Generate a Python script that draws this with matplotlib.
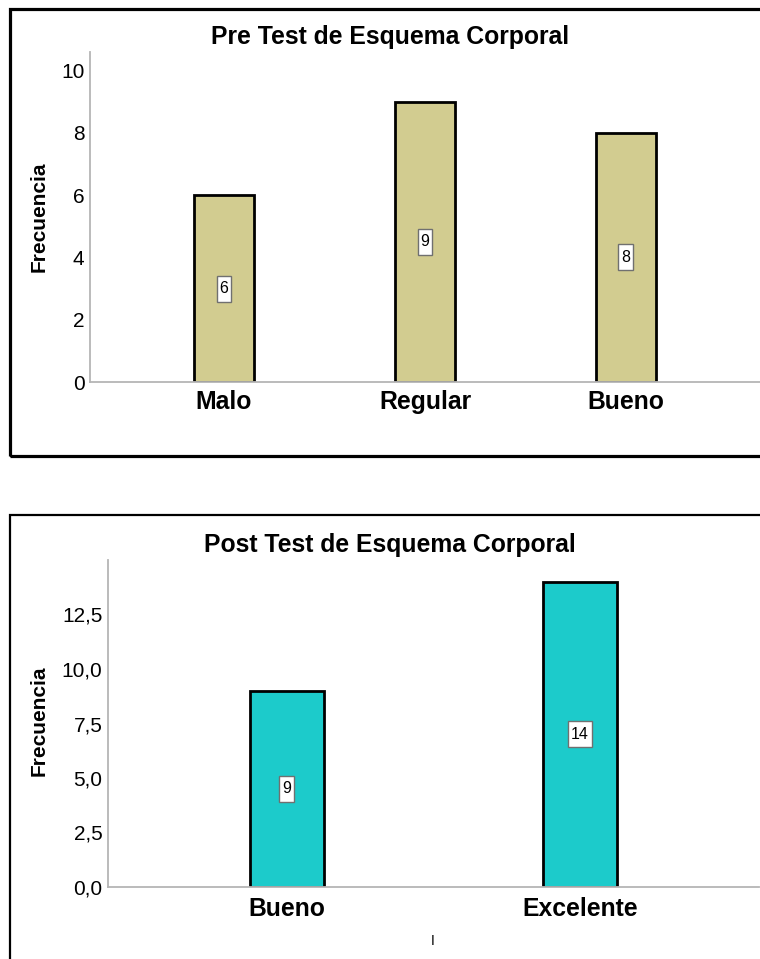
import matplotlib
matplotlib.use("Agg")
import matplotlib.pyplot as plt
from matplotlib.patches import Rectangle
from matplotlib.path import Path

plt.rcParams['font.family'] = ['Liberation Sans', 'DejaVu Sans']

# Data
pre_categories = ["Malo", "Regular", "Bueno"]
pre_values = [6, 9, 8]
post_categories = ["Bueno", "Excelente"]
post_values = [9, 14]
pre_title = "Pre Test de Esquema Corporal"
post_title = "Post Test de Esquema Corporal"
y_label = "Frecuencia"
pre_yticks = [0, 2, 4, 6, 8, 10]
post_yticks = [0, 2.5, 5.0, 7.5, 10.0, 12.5]

W, H = 760, 959
fig = plt.figure(figsize=(W / 100, H / 100), dpi=100)

def fx(px):
    return px / W

def fy(py):
    return 1 - py / H

def tall_box(x0, y0, width, height, mutation_scale=1.0):
    px_, py_ = 3.0, 5.5
    x0 -= px_
    x1 = x0 + width + 2 * px_
    y0 -= py_
    y1 = y0 + height + 2 * py_
    return Path([(x0, y0), (x1, y0), (x1, y1), (x0, y1), (x0, y0)],
                [Path.MOVETO, Path.LINETO, Path.LINETO, Path.LINETO, Path.CLOSEPOLY])

# Panel borders
fig.patches.append(Rectangle((fx(9.5), fy(456.5)), fx(800), fy(8.5) - fy(456.5),
                             transform=fig.transFigure, fill=False, ec='black', lw=2.3))
fig.patches.append(Rectangle((fx(10), fy(1000)), fx(800), fy(515) - fy(1000),
                             transform=fig.transFigure, fill=False, ec='black', lw=1.6))

def make_axes(left, right, top, bottom):
    ax = fig.add_axes([fx(left), fy(bottom), fx(right - left), fy(top) - fy(bottom)])
    for s in ['top', 'right']:
        ax.spines[s].set_visible(False)
    for s in ['left', 'bottom']:
        ax.spines[s].set_color('#b5b5b5')
        ax.spines[s].set_linewidth(1.3)
    ax.tick_params(length=0)
    ax.set_facecolor('none')
    return ax

def label_bars(ax, xs, vals):
    for xi, v in zip(xs, vals):
        ax.text(xi, v / 2, str(v), ha='center', va='center', fontsize=11.5, zorder=3,
                bbox=dict(boxstyle=tall_box, fc='white', ec='#707070', lw=1))

# Top chart
ax1 = make_axes(90, 760, 52, 382)
x1 = list(range(len(pre_categories)))
ax1.bar(x1, pre_values, width=0.30, color='#D2CC90', edgecolor='black', linewidth=2.0, zorder=2)
ax1.set_xlim(-0.667, 2.667)
ax1.set_ylim(0, 10.6)
ax1.set_yticks(pre_yticks)
ax1.set_yticklabels([str(v) for v in pre_yticks], fontsize=15)
ax1.set_xticks(x1)
ax1.set_xticklabels(pre_categories, fontsize=17.8, fontweight='bold')
ax1.tick_params(axis='x', pad=5.5)
ax1.tick_params(axis='y', pad=4)
label_bars(ax1, x1, pre_values)

# Bottom chart
ax2 = make_axes(108, 759, 560, 887)
x2 = list(range(len(post_categories)))
ax2.bar(x2, post_values, width=0.25, color='#1CCBCB', edgecolor='black', linewidth=2.0, zorder=2)
ax2.set_xlim(-0.61, 1.61)
ax2.set_ylim(0, 15)
ax2.set_yticks(post_yticks)
ax2.set_yticklabels([f"{v:.1f}".replace('.', ',') for v in post_yticks], fontsize=15)
ax2.set_xticks(x2)
ax2.set_xticklabels(post_categories, fontsize=17.8, fontweight='bold')
ax2.tick_params(axis='x', pad=7)
ax2.tick_params(axis='y', pad=4)
label_bars(ax2, x2, post_values)

# Titles and y labels
fig.text(fx(390), fy(37), pre_title, ha='center', va='center', fontsize=17.8, fontweight='bold')
fig.text(fx(390), fy(545), post_title, ha='center', va='center', fontsize=17.8, fontweight='bold')
fig.text(fx(39), fy(217), y_label, ha='center', va='center', rotation=90, fontsize=15, fontweight='bold')
fig.text(fx(39), fy(721), y_label, ha='center', va='center', rotation=90, fontsize=15, fontweight='bold')

# small cursor mark
fig.text(fx(433), fy(941), "I", ha='center', va='center', fontsize=10)

fig.savefig("out.png", dpi=100)
